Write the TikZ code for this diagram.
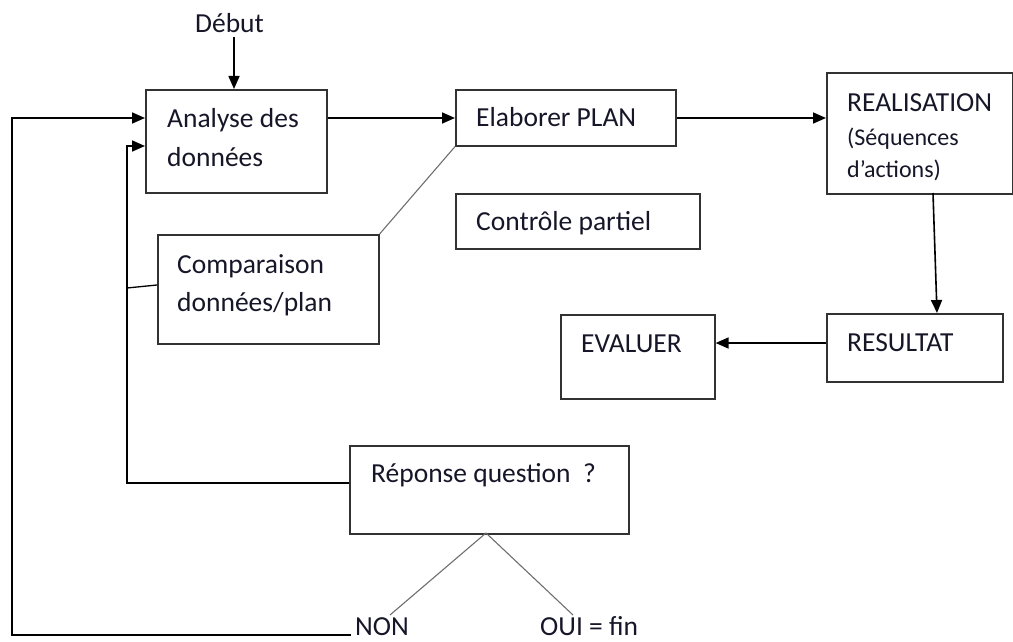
\documentclass[tikz,border=0pt]{standalone}
\usepackage{fontspec}
\setmainfont{Carlito}
\usetikzlibrary{arrows.meta}
\definecolor{txt}{RGB}{22,22,40}
\definecolor{boxc}{RGB}{50,50,50}
\definecolor{thin}{RGB}{110,110,110}
\tikzset{
  boxn/.style={draw=boxc, line width=1.6pt, rectangle, inner sep=0pt, anchor=north west},
  lbl/.style={anchor=base west, inner sep=0pt, text=txt, font=\fontsize{27.5}{32}\selectfont},
  lbls/.style={anchor=base west, inner sep=0pt, text=txt, font=\fontsize{24}{28}\selectfont},
  conn/.style={draw=black, line width=1.6pt},
  arr/.style={conn, -{Triangle[length=13pt,width=11pt]}},
  diag/.style={draw=thin, line width=1.1pt}
}
\begin{document}
\begin{tikzpicture}[x=1pt,y=-1pt]
\useasboundingbox (0,0) rectangle (1013,642);
% boxes
\node[boxn, minimum width=181pt, minimum height=103pt] (ana) at (145,89) {};
\node[boxn, minimum width=220pt, minimum height=56pt] (ela) at (455,89) {};
\node[boxn, minimum width=186pt, minimum height=121pt] (rea) at (826,72) {};
\node[boxn, minimum width=244pt, minimum height=55pt] (ctl) at (455,193) {};
\node[boxn, minimum width=221pt, minimum height=109pt] (cmp) at (157,234) {};
\node[boxn, minimum width=176pt, minimum height=68pt] (res) at (826,313) {};
\node[boxn, minimum width=154pt, minimum height=84pt] (eva) at (560,314) {};
\node[boxn, minimum width=279pt, minimum height=88pt] (rep) at (349,445) {};
% texts
\node[lbl] (tdeb) at (195,33) {Début};
\node[lbl] (tana1) at (167,128) {Analyse des};
\node[lbl] (tana2) at (167,166) {données};
\node[lbl] (tela) at (476,126) {Elaborer PLAN};
\node[lbl] (tctl) at (476,230) {Contrôle partiel};
\node[lbl] (trea1) at (847,111) {REALISATION};
\node[lbls] (trea2) at (847,145) {(Séquences};
\node[lbls] (trea3) at (847,177) {d’actions)};
\node[lbl] (tres) at (847,351) {RESULTAT};
\node[lbl] (teva) at (581,352) {EVALUER};
\node[lbl] (tcmp1) at (177,273) {Comparaison};
\node[lbl] (tcmp2) at (177,311) {données/plan};
\node[lbl] (trep) at (371,482) {Réponse question\ \ ?};
\node[lbl] (non) at (355,635) {NON};
\node[lbl] (oui) at (540,635) {OUI = fin};
% helper coordinates
\coordinate (debbot) at (234,37);
\coordinate (nonl) at (351,635);
\coordinate (nontop) at (390,615);
\coordinate (ouitop) at (573,615);
\coordinate (repb) at (486,533);
% connectors
\draw[arr] (debbot) -- (234,89);
\draw[arr] (ana.east |- 0,118) -- (ela.west |- 0,118);
\draw[arr] (ela.east |- 0,118) -- (rea.west |- 0,118);
\draw[arr] (933,193) -- (937,313);
\draw[arr] (res.west |- 0,343) -- (eva.east |- 0,343);
\draw[arr] (nonl) -- (12,635) -- (12,118) -- (ana.west |- 0,118);
\draw[arr] (rep.west |- 0,483) -- (127,483) -- (127,146) -- (ana.west |- 0,146);
\draw[conn, line width=1.3pt] (cmp.west |- 0,285) -- (127,288);
\draw[diag] (ela.south west) -- (cmp.north east);
\draw[diag] (repb) -- (nontop);
\draw[diag] (repb) -- (ouitop);
\end{tikzpicture}
\end{document}
